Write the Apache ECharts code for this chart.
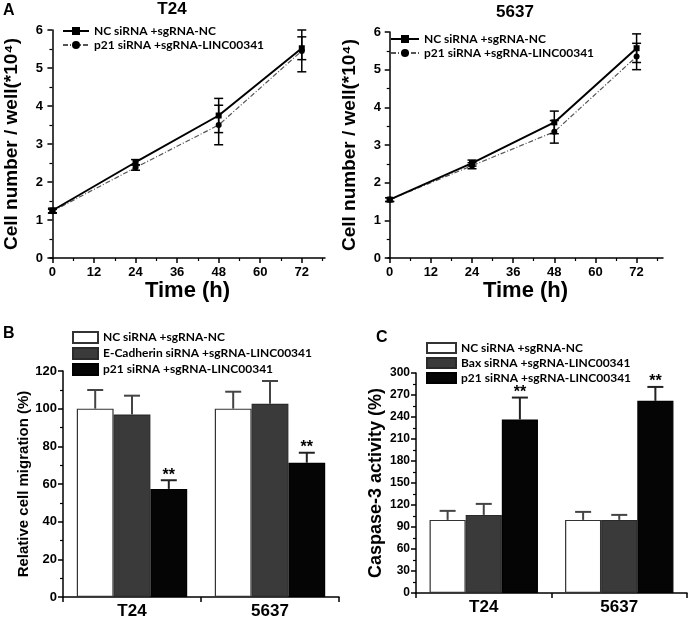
<!DOCTYPE html>
<html>
<head>
<meta charset="utf-8">
<script src="https://cdn.jsdelivr.net/npm/echarts@6/dist/echarts.min.js"></script>
<style>
html,body{margin:0;padding:0;background:#fff;}
#chart{width:688px;height:621px;}
</style>
</head>
<body>
<div id="chart"></div>
<script>
// ---- Panel A data (cell number / well, *10^4) ----
const hours = [0, 24, 48, 72];
const hourTicks = [0, 12, 24, 36, 48, 60, 72];
const hourMinorTicks = [6, 18, 30, 42, 54, 66, 78];
const t24NC = [1.25, 2.52, 3.75, 5.52];
const t24NCErr = [0.06, 0.07, 0.45, 0.30];
const t24P21 = [1.23, 2.38, 3.50, 5.45];
const t24P21Err = [0.05, 0.07, 0.52, 0.55];
const c5637NC = [1.55, 2.52, 3.60, 5.57];
const c5637NCErr = [0.05, 0.08, 0.30, 0.38];
const c5637P21 = [1.55, 2.45, 3.35, 5.35];
const c5637P21Err = [0.05, 0.08, 0.30, 0.35];

// ---- Panel B data (relative cell migration %) ----
const cellLines = ['T24', '5637'];
const migNC = [100, 100];
const migNCErr = [9.9, 9.0];
const migEcad = [96.9, 102.6];
const migEcadErr = [10.0, 12.1];
const migP21 = [57.4, 71.3];
const migP21Err = [4.6, 5.3];
const migStars = ['**', '**'];

// ---- Panel C data (caspase-3 activity %) ----
const casNC = [99.7, 99.7];
const casNCErr = [12.3, 10.9];
const casBax = [106.5, 99.7];
const casBaxErr = [15.0, 6.8];
const casP21 = [236.6, 262.0];
const casP21Err = [29.9, 19.0];
const casStars = ['**', '**'];

// ---- Labels ----
const labelNC = 'NC siRNA +sgRNA-NC';
const labelP21 = 'p21 siRNA +sgRNA-LINC00341';
const labelEcad = 'E-Cadherin siRNA +sgRNA-LINC00341';
const labelBax = 'Bax siRNA +sgRNA-LINC00341';

const legendText = {
  aT24NC: labelNC, aT24P21: labelP21,
  a5637NC: labelNC, a5637P21: labelP21,
  bNC: labelNC, bEcad: labelEcad, bP21: labelP21,
  cNC: labelNC, cBax: labelBax, cP21: labelP21
};

const AX = 'Liberation Sans';
const LG = 'Lato';

const chart = echarts.init(document.getElementById('chart'), null, {renderer: 'canvas'});

function lineErr(xAxisIndex, yAxisIndex, vals, errs) {
  return {
    type: 'custom',
    xAxisIndex, yAxisIndex,
    z: 5,
    silent: true,
    data: hours.map((h, i) => [h, vals[i], errs[i]]),
    encode: {x: 0, y: 1},
    renderItem: function (params, api) {
      const x = api.value(0), y = api.value(1), e = api.value(2);
      const top = api.coord([x, y + e]);
      const bot = api.coord([x, y - e]);
      const hw = 4.5;
      const st = {stroke: '#000', lineWidth: 1.5};
      return {
        type: 'group',
        children: [
          {type: 'line', shape: {x1: top[0], y1: top[1], x2: bot[0], y2: bot[1]}, style: st},
          {type: 'line', shape: {x1: top[0] - hw, y1: top[1], x2: top[0] + hw, y2: top[1]}, style: st},
          {type: 'line', shape: {x1: bot[0] - hw, y1: bot[1], x2: bot[0] + hw, y2: bot[1]}, style: st}
        ]
      };
    }
  };
}

function barErr(xAxisIndex, yAxisIndex, k, vals, errs, stars, color) {
  return {
    type: 'custom',
    xAxisIndex, yAxisIndex,
    z: 5,
    silent: true,
    data: vals.map((v, i) => [i, v, errs[i]]),
    encode: {x: 0, y: 1},
    renderItem: function (params, api) {
      const i = api.value(0), v = api.value(1), e = api.value(2);
      const star = stars ? stars[i] : '';
      const catW = api.size([1, 0])[0];
      const barW = catW * 0.8 / 3;
      const base = api.coord([i, v]);
      const top = api.coord([i, v + e]);
      const x = base[0] + (k - 1) * barW;
      const hw = 8;
      const st = {stroke: color, lineWidth: 2};
      const children = [
        {type: 'line', shape: {x1: x, y1: base[1], x2: x, y2: top[1]}, style: st},
        {type: 'line', shape: {x1: x - hw, y1: top[1], x2: x + hw, y2: top[1]}, style: st}
      ];
      if (star) {
        children.push({
          type: 'text',
          style: {
            text: star, x: x, y: top[1] + 3,
            align: 'center', verticalAlign: 'bottom',
            fontSize: 16, fontWeight: 'bold', fontFamily: AX, fill: '#000'
          }
        });
      }
      return {type: 'group', children};
    }
  };
}

const axisLineStyle = {show: true, lineStyle: {color: '#000', width: 1.5}};
const tickStyle = {show: true, inside: false, length: 5, lineStyle: {color: '#000', width: 1.5}};
const minorStyle = {show: true, splitNumber: 2, length: 3, lineStyle: {color: '#000', width: 1.2}};

function timeAxes(gridIndex, min, max) {
  return [
    {
      type: 'value', gridIndex, position: 'bottom', min, max,
      axisLine: axisLineStyle,
      axisTick: Object.assign({}, tickStyle, {customValues: hourTicks}),
      axisLabel: {customValues: hourTicks, color: '#000', fontFamily: AX, fontWeight: 'bold', fontSize: 13, margin: 8},
      splitLine: {show: false},
      name: 'Time (h)', nameLocation: 'middle', nameGap: 13,
      nameTextStyle: {color: '#000', fontFamily: AX, fontWeight: 'bold', fontSize: 22}
    },
    {
      type: 'value', gridIndex, position: 'bottom', min, max,
      axisLine: {show: false},
      axisTick: {show: true, length: 3, customValues: hourMinorTicks, lineStyle: {color: '#000', width: 1.2}},
      axisLabel: {show: false},
      splitLine: {show: false}
    }
  ];
}

function countAxis(gridIndex) {
  return {
    type: 'value', gridIndex, min: 0, max: 6, interval: 1,
    axisLine: axisLineStyle, axisTick: tickStyle, minorTick: minorStyle,
    axisLabel: {color: '#000', fontFamily: AX, fontWeight: 'bold', fontSize: 13, margin: 7},
    splitLine: {show: false}, minorSplitLine: {show: false},
    name: 'Cell number / well(*10⁴)', nameLocation: 'middle', nameGap: 29,
    nameTextStyle: {color: '#000', fontFamily: AX, fontWeight: 'bold', fontSize: 19}
  };
}

function catAxis(gridIndex) {
  return {
    type: 'category', gridIndex, data: cellLines,
    axisLine: axisLineStyle,
    axisTick: {show: true, length: 5, lineStyle: {color: '#000', width: 1.5}},
    axisLabel: {color: '#000', fontFamily: AX, fontWeight: 'bold', fontSize: 17, margin: 6},
    splitLine: {show: false}
  };
}

const lineNC = (name, xi, yi, data) => ({
  name, type: 'line', xAxisIndex: xi, yAxisIndex: yi, z: 4,
  data: hours.map((h, i) => [h, data[i]]),
  symbol: 'rect', symbolSize: 6,
  itemStyle: {color: '#000'},
  lineStyle: {color: '#000', width: 2, type: 'solid'}
});
const lineP21 = (name, xi, yi, data) => ({
  name, type: 'line', xAxisIndex: xi, yAxisIndex: yi, z: 3,
  data: hours.map((h, i) => [h, data[i]]),
  symbol: 'circle', symbolSize: 6,
  itemStyle: {color: '#000'},
  lineStyle: {color: '#555', width: 1.2, type: [5, 2, 1, 2]}
});
const barS = (name, xi, yi, data, fill, border) => ({
  name, type: 'bar', xAxisIndex: xi, yAxisIndex: yi,
  data: data, barGap: '0%', barCategoryGap: '20%',
  itemStyle: {color: fill, borderColor: border, borderWidth: 1.2}
});

const legendBase = {
  orient: 'vertical', selectedMode: false, padding: 0,
  textStyle: {color: '#000', fontFamily: LG, fontWeight: 'bold', fontSize: 12, lineHeight: 12},
  formatter: n => legendText[n]
};

const option = {
  animation: false,
  backgroundColor: '#fff',
  grid: [
    {left: 50, top: 30, width: 275, height: 228},
    {left: 388, top: 32, width: 275, height: 226},
    {left: 63, top: 371, width: 276, height: 226},
    {left: 416, top: 373, width: 271, height: 220}
  ],
  xAxis: [
    ...timeAxes(0, -0.7, 78.7),
    ...timeAxes(1, -0.5, 79.7),
    catAxis(2),
    catAxis(3)
  ],
  yAxis: [
    countAxis(0),
    countAxis(1),
    {
      type: 'value', gridIndex: 2, min: 0, max: 120, interval: 20,
      axisLine: axisLineStyle, axisTick: tickStyle, minorTick: minorStyle,
      axisLabel: {color: '#000', fontFamily: AX, fontWeight: 'bold', fontSize: 13, margin: 6},
      splitLine: {show: false}, minorSplitLine: {show: false},
      name: 'Relative cell migration (%)', nameLocation: 'middle', nameGap: 24,
      nameTextStyle: {color: '#000', fontFamily: AX, fontWeight: 'bold', fontSize: 15}
    },
    {
      type: 'value', gridIndex: 3, min: 0, max: 300, interval: 30,
      axisLine: axisLineStyle, axisTick: tickStyle, minorTick: minorStyle,
      axisLabel: {color: '#000', fontFamily: AX, fontWeight: 'bold', fontSize: 12, margin: 6},
      splitLine: {show: false}, minorSplitLine: {show: false},
      name: 'Caspase-3 activity (%)', nameLocation: 'middle', nameGap: 31,
      nameTextStyle: {color: '#000', fontFamily: AX, fontWeight: 'bold', fontSize: 18}
    }
  ],
  legend: [
    Object.assign({}, legendBase, {left: 62, top: 25, itemWidth: 26, itemHeight: 10, itemGap: 2,
      data: ['aT24NC', 'aT24P21']}),
    Object.assign({}, legendBase, {left: 390, top: 33, itemWidth: 28, itemHeight: 10, itemGap: 2,
      data: ['a5637NC', 'a5637P21']}),
    Object.assign({}, legendBase, {left: 72, top: 331, itemWidth: 25, itemHeight: 11, itemGap: 3,
      data: [{name: 'bNC', icon: 'rect'}, {name: 'bEcad', icon: 'rect'}, {name: 'bP21', icon: 'rect'}]}),
    Object.assign({}, legendBase, {left: 426, top: 342, itemWidth: 29, itemHeight: 10, itemGap: 3,
      data: [{name: 'cNC', icon: 'rect'}, {name: 'cBax', icon: 'rect'}, {name: 'cP21', icon: 'rect'}]})
  ],
  graphic: [
    {type: 'text', left: 3, top: 3, style: {text: 'A', fontSize: 16, fontWeight: 'bold', fontFamily: AX, fill: '#000'}},
    {type: 'text', left: 3, top: 326, style: {text: 'B', fontSize: 16, fontWeight: 'bold', fontFamily: AX, fill: '#000'}},
    {type: 'text', left: 376, top: 330, style: {text: 'C', fontSize: 16, fontWeight: 'bold', fontFamily: AX, fill: '#000'}},
    {type: 'text', x: 172, y: 9, style: {text: 'T24', align: 'center', verticalAlign: 'middle', fontSize: 17, fontWeight: 'bold', fontFamily: AX, fill: '#000'}},
    {type: 'text', x: 515, y: 12, style: {text: '5637', align: 'center', verticalAlign: 'middle', fontSize: 17, fontWeight: 'bold', fontFamily: AX, fill: '#000'}}
  ],
  series: [
    lineNC('aT24NC', 0, 0, t24NC),
    lineP21('aT24P21', 0, 0, t24P21),
    lineErr(0, 0, t24NC, t24NCErr),
    lineErr(0, 0, t24P21, t24P21Err),
    lineNC('a5637NC', 2, 1, c5637NC),
    lineP21('a5637P21', 2, 1, c5637P21),
    lineErr(2, 1, c5637NC, c5637NCErr),
    lineErr(2, 1, c5637P21, c5637P21Err),
    barS('bNC', 4, 2, migNC, '#ffffff', '#333'),
    barS('bEcad', 4, 2, migEcad, '#3a3a3a', '#2a2a2a'),
    barS('bP21', 4, 2, migP21, '#050505', '#000'),
    barErr(4, 2, 0, migNC, migNCErr, null, '#444'),
    barErr(4, 2, 1, migEcad, migEcadErr, null, '#444'),
    barErr(4, 2, 2, migP21, migP21Err, migStars, '#222'),
    barS('cNC', 5, 3, casNC, '#ffffff', '#333'),
    barS('cBax', 5, 3, casBax, '#3a3a3a', '#2a2a2a'),
    barS('cP21', 5, 3, casP21, '#050505', '#000'),
    barErr(5, 3, 0, casNC, casNCErr, null, '#444'),
    barErr(5, 3, 1, casBax, casBaxErr, null, '#444'),
    barErr(5, 3, 2, casP21, casP21Err, casStars, '#222')
  ]
};

chart.setOption(option);
</script>
</body>
</html>
